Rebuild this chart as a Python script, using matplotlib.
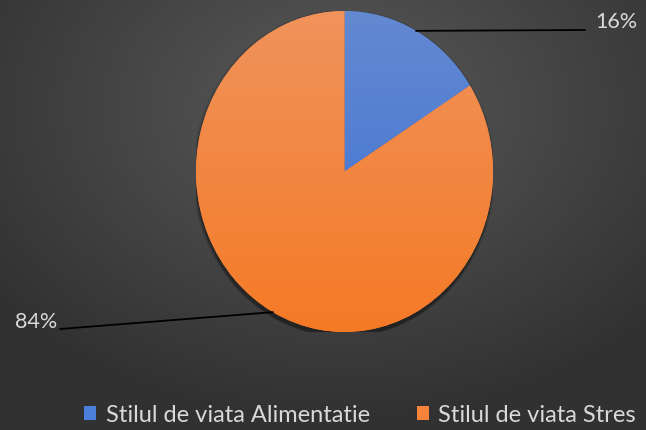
import numpy as np
import matplotlib.pyplot as plt
from matplotlib.patches import Patch, Ellipse

# date
labels = ['Stilul de viata Alimentatie', 'Stilul de viata Stres']
values = [16, 84]
pct_labels = ['16%', '84%']

colors = ['#4472C4', '#ED7D31']
top_colors = ['#6389d0', '#f0935c']
bottom_colors = ['#3b6fd6', '#f57a26']

plt.rcParams['font.family'] = ['Lato', 'DejaVu Sans']
TXT = '#d9d9d9'

W, H = 646, 431
fig = plt.figure(figsize=(W / 100, H / 100), dpi=100)

# fundal gri cu gradient radial
bg = fig.add_axes([0, 0, 1, 1])
yy, xx = np.mgrid[0:1:H * 1j, 0:1:W * 1j]
d = np.sqrt(((xx - 0.52) * 1.1) ** 2 + (yy - 0.25) ** 2)
v = np.clip(0x5a - d * 0x38, 0x31, 0x5a) / 255.0
bg.imshow(np.dstack([v, v, v]), aspect='auto', extent=(0, 1, 0, 1))
bg.set_xlim(0, 1)
bg.set_ylim(0, 1)
bg.axis('off')

# pie (usor alungit pe verticala, ca in original)
ax = fig.add_axes([196 / W, (H - 333) / H, 297 / W, 321 / H])
for k, a in enumerate([0.10, 0.14, 0.22]):
    ax.add_patch(Ellipse((-0.004, -0.012 - 0.008 * k), 2.0 + 0.02 * (2 - k), 2.0 + 0.02 * (2 - k),
                         color='black', alpha=a, lw=0, zorder=0))

wedges, _ = ax.pie(values, colors=colors, startangle=90, counterclock=False,
                   radius=1, wedgeprops=dict(lw=0))
for w, c0, c1 in zip(wedges, top_colors, bottom_colors):
    w.set_zorder(1)
    t = np.linspace(0, 1, 256)[:, None, None]
    grad = np.array(plt.matplotlib.colors.to_rgb(c0)) * (1 - t) + np.array(plt.matplotlib.colors.to_rgb(c1)) * t
    im = ax.imshow(grad, extent=(-1, 1, -1, 1), aspect='auto', zorder=2)
    im.set_clip_path(w)
ax.set_xlim(-1, 1)
ax.set_ylim(-1, 1)
ax.set_aspect('auto')
ax.axis('off')

# etichete cu linii de legatura
total = sum(values)
cum = np.cumsum(values)
line_ends = [(585, H - 31), (60, H - 330)]
text_pos = [(595, H - 22, 'left'), (57, H - 322, 'right')]
for i in range(len(values)):
    theta = 360.0 * (cum[i] - values[i] / 2) / total
    ang = np.deg2rad(90 - theta)
    anchor = (np.cos(ang), np.sin(ang))
    ax.annotate('', xy=anchor, xycoords='data', xytext=line_ends[i], textcoords='figure pixels',
                arrowprops=dict(arrowstyle='-', color='black', lw=1.3, shrinkA=0, shrinkB=0),
                annotation_clip=False, zorder=5)
    tx, ty, ha = text_pos[i]
    fig.text(tx / W, ty / H, pct_labels[i], color=TXT, fontsize=15.5, ha=ha, va='center')

handles = [Patch(facecolor=c, edgecolor='none') for c in ['#4a7fdc', '#f5843a']]
fig.legend(handles, labels, loc='center', bbox_to_anchor=(360 / W, 15 / H), ncol=2,
           frameon=False, fontsize=17, labelcolor=TXT, handlelength=0.5, handleheight=0.5,
           handletextpad=0.4, columnspacing=2.0)

fig.savefig('out.png', dpi=100)
